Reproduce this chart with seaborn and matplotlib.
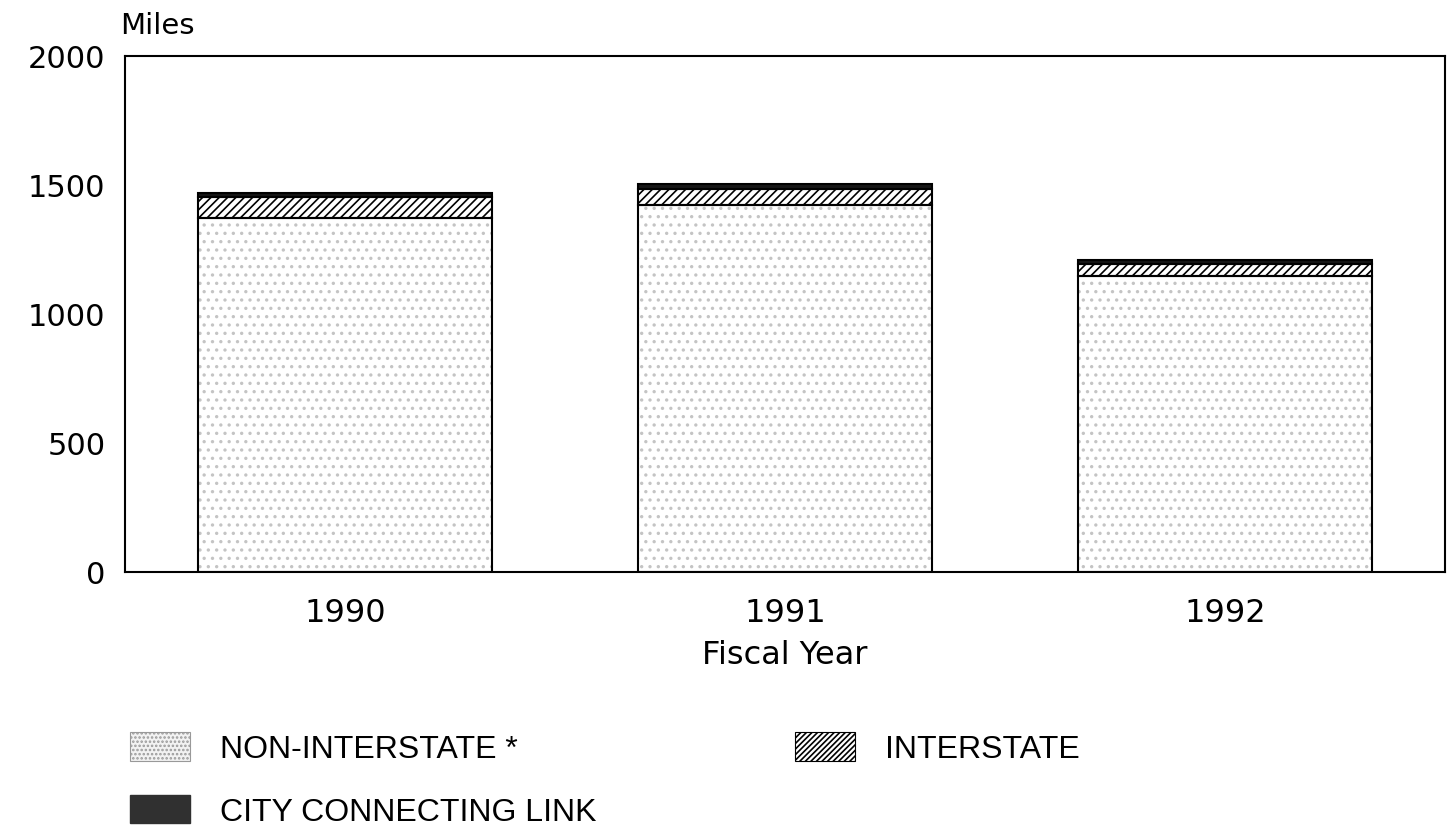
import numpy as np
import pandas as pd
import matplotlib
matplotlib.use("Agg")
import matplotlib.pyplot as plt
import seaborn as sns
from matplotlib.patches import Patch

# values (miles)
years = ["1990", "1991", "1992"]
non_interstate = [1372, 1423, 1146]
interstate = [81, 62, 47]
city_link = [16, 19, 16]

df = pd.DataFrame({"year": years, "non": non_interstate,
                   "inter": interstate, "city": city_link})
df["bottom_inter"] = df["non"]
df["bottom_city"] = df["non"] + df["inter"]

sns.set_style("white")
plt.rcParams["font.family"] = ["DejaVu Sans"]
plt.rcParams["text.color"] = "black"
plt.rcParams["xtick.color"] = "black"
plt.rcParams["ytick.color"] = "black"
plt.rcParams["axes.labelcolor"] = "black"
plt.rcParams["hatch.linewidth"] = 1.2

fig = plt.figure(figsize=(14.53, 8.29), dpi=100)
ax = fig.add_axes([125 / 1453, 1 - 573 / 829, 1320 / 1453, (573 - 57) / 829])

bw = 0.667
# non-interstate: light stipple
sns.barplot(data=df, x="year", y="non", ax=ax, color="white", width=bw,
            errorbar=None, hatch="..", edgecolor="#c4c4c4", linewidth=0)
# interstate: diagonal hatch
sns.barplot(data=df, x="year", y="inter", ax=ax, color="white", width=bw,
            errorbar=None, bottom=df["bottom_inter"].values, hatch="////",
            edgecolor="black", linewidth=1.5)
# city connecting link: solid dark
sns.barplot(data=df, x="year", y="city", ax=ax, color="#151515", width=bw,
            errorbar=None, bottom=df["bottom_city"].values,
            edgecolor="black", linewidth=1.5)
# outline of the non-interstate block
sns.barplot(data=df, x="year", y="non", ax=ax, fill=False, width=bw,
            errorbar=None, edgecolor="black", linewidth=1.5)

ax.set_xlim(-0.5, 2.5)
ax.set_ylim(0, 2000)
ax.set_yticks([0, 500, 1000, 1500, 2000])
ax.tick_params(axis="y", direction="in", length=10, width=1.5, pad=14, labelsize=22)
ax.tick_params(axis="x", direction="in", length=10, width=1.5, pad=18, labelsize=23)
for s in ax.spines.values():
    s.set_visible(True)
    s.set_linewidth(1.5)
    s.set_color("black")
ax.set_xlabel("Fiscal Year", fontsize=23, labelpad=8)
ax.set_ylabel("")

fig.text(120 / 1453, 1 - 34 / 829, "Miles", fontsize=21, ha="left", va="baseline")

handles = [
    Patch(facecolor="#f2f2f2", edgecolor="#999999", hatch="....", linewidth=0.8, label="NON-INTERSTATE *"),
    Patch(facecolor="#303030", edgecolor="#303030", label="CITY CONNECTING LINK"),
    Patch(facecolor="white", edgecolor="black", hatch="//////", linewidth=0.8, label="INTERSTATE"),
]
fig.legend(handles=handles, ncol=2, loc="upper left",
           bbox_to_anchor=(130 / 1453, 1 - 733 / 829), frameon=False,
           prop={"family": "Liberation Sans", "size": 23},
           handlelength=1.88, handleheight=1.0, handletextpad=0.95,
           columnspacing=6.2, labelspacing=0.95, borderpad=0, borderaxespad=0)

fig.savefig("out.png", dpi=100)
